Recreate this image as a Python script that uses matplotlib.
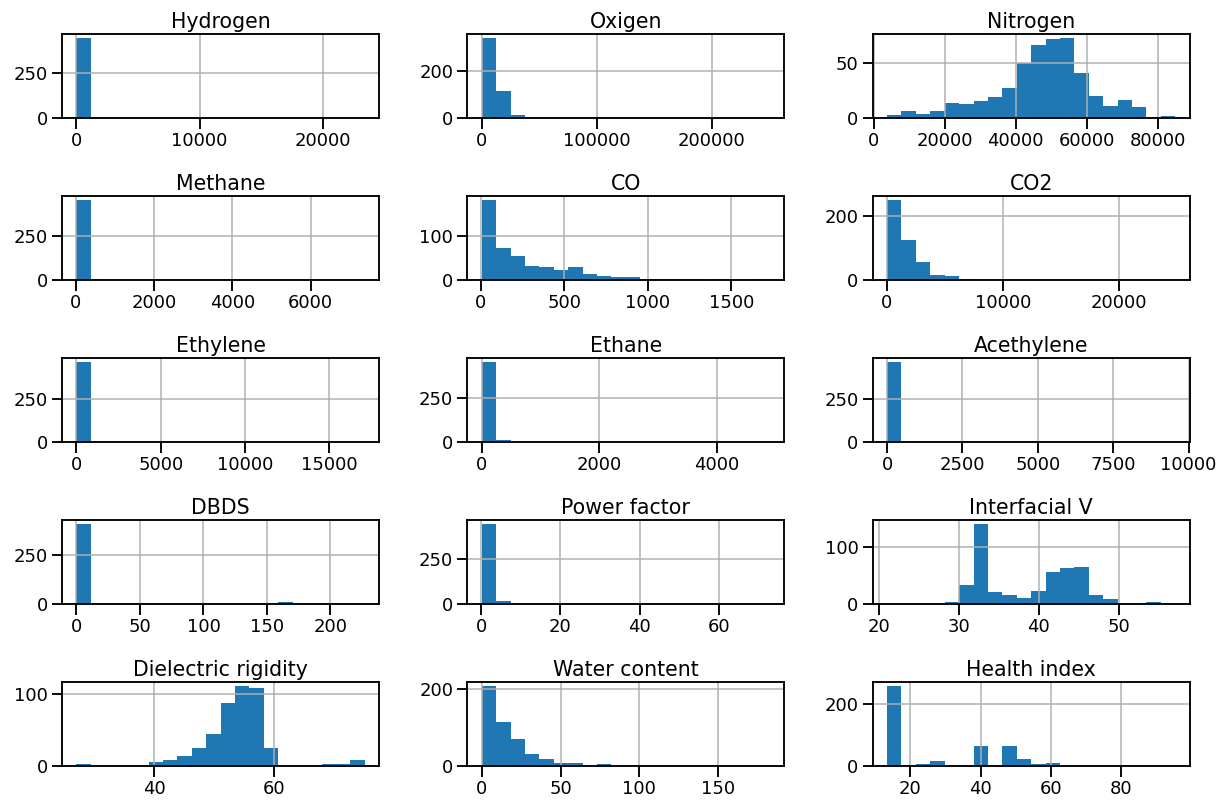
import numpy as np
import matplotlib
matplotlib.use("Agg")
import matplotlib.pyplot as plt
from matplotlib.ticker import MaxNLocator
import seaborn as sns

sns.set_context("talk")
plt.rcParams["xtick.labelsize"] = 18
plt.rcParams["ytick.labelsize"] = 18
plt.rcParams["axes.titlesize"] = 20.5
plt.rcParams["xtick.major.size"] = 10.5
plt.rcParams["ytick.major.size"] = 10.5

# Column names of the transformer data
names = ["Hydrogen", "Oxigen", "Nitrogen", "Methane", "CO", "CO2",
         "Ethylene", "Ethane", "Acethylene", "DBDS", "Power factor",
         "Interfacial V", "Dielectric rigidity", "Water content", "Health index"]

# Min / max of each column (histogram range)
lows = [0, 0, 3700, 18, 7, 22, 0, 0, 0, 0, 0.1, 21.0, 27.07, 0, 13.36]
highs = [23400, 250500, 85000, 7380, 1732, 24860, 17100, 4900, 9560,
         227.0, 73, 57.1, 75.1, 183, 95.4]

# Counts per bin (20 bins each)
hydrogen = [447, 3, 2, 1, 1, 1, 0, 0, 0, 0, 0, 0, 0, 0, 0, 0, 0, 0, 0, 1]
oxigen = [343, 114, 12, 2, 0, 0, 0, 0, 0, 0, 0, 0, 0, 0, 0, 0, 0, 0, 0, 1]
nitrogen = [3, 6, 4, 6, 14, 13, 15, 19, 27, 50, 67, 72, 73, 41, 20, 11, 16, 10, 0, 2]
methane = [458, 3, 1, 1, 0, 0, 0, 0, 0, 0, 0, 0, 0, 0, 0, 0, 0, 0, 0, 1]
co = [182, 73, 55, 32, 29, 22, 29, 13, 9, 6, 6, 2, 1, 1, 1, 0, 1, 0, 0, 1]
co2 = [249, 124, 57, 16, 12, 2, 1, 0, 0, 0, 0, 0, 0, 0, 0, 0, 0, 0, 0, 1]
ethylene = [462, 2, 1, 0, 0, 0, 0, 0, 0, 0, 0, 0, 0, 0, 0, 0, 0, 0, 0, 1]
ethane = [452, 9, 2, 1, 0, 0, 0, 0, 0, 0, 0, 0, 0, 0, 0, 0, 0, 0, 0, 1]
acethylene = [460, 2, 1, 0, 0, 0, 0, 0, 0, 0, 0, 0, 0, 0, 0, 0, 0, 0, 0, 1]
dbds = [411, 4, 2, 1, 0, 0, 0, 0, 0, 0, 0, 5, 0, 0, 12, 0, 0, 0, 0, 1]
power_factor = [442, 17, 2, 1, 0, 0, 0, 0, 0, 0, 0, 0, 0, 0, 0, 0, 0, 0, 0, 1]
interfacial_v = [1, 0, 0, 0, 3, 34, 140, 21, 16, 10, 22, 56, 63, 65, 15, 8, 2, 0, 3, 1]
dielectric = [3, 1, 0, 2, 1, 5, 9, 14, 25, 44, 87, 111, 108, 25, 1, 0, 2, 3, 3, 8]
water = [207, 114, 70, 31, 18, 7, 7, 1, 5, 0, 0, 0, 0, 0, 0, 0, 0, 0, 0, 1]
health = [258, 0, 5, 15, 0, 0, 64, 0, 64, 21, 5, 10, 0, 0, 0, 0, 0, 0, 0, 1]

counts = [hydrogen, oxigen, nitrogen, methane, co, co2, ethylene, ethane,
          acethylene, dbds, power_factor, interfacial_v, dielectric, water, health]

fig, axes = plt.subplots(5, 3, figsize=(17, 11.125))

for ax, name, lo, hi, c in zip(axes.flat, names, lows, highs, counts):
    edges = np.linspace(lo, hi, 21)
    ax.hist(edges[:-1], bins=edges, weights=c)
    ax.set_title(name)
    ax.grid(True)
    ax.xaxis.set_major_locator(MaxNLocator(nbins=5, steps=[1, 2, 2.5, 5, 10]))
    ax.yaxis.set_major_locator(MaxNLocator(nbins=2, steps=[1, 2, 2.5, 5, 10]))

plt.subplots_adjust(left=0.0507, right=0.972, top=0.9576, bottom=0.0437,
                    wspace=0.278, hspace=0.93)
plt.savefig("out.png", dpi=72)
